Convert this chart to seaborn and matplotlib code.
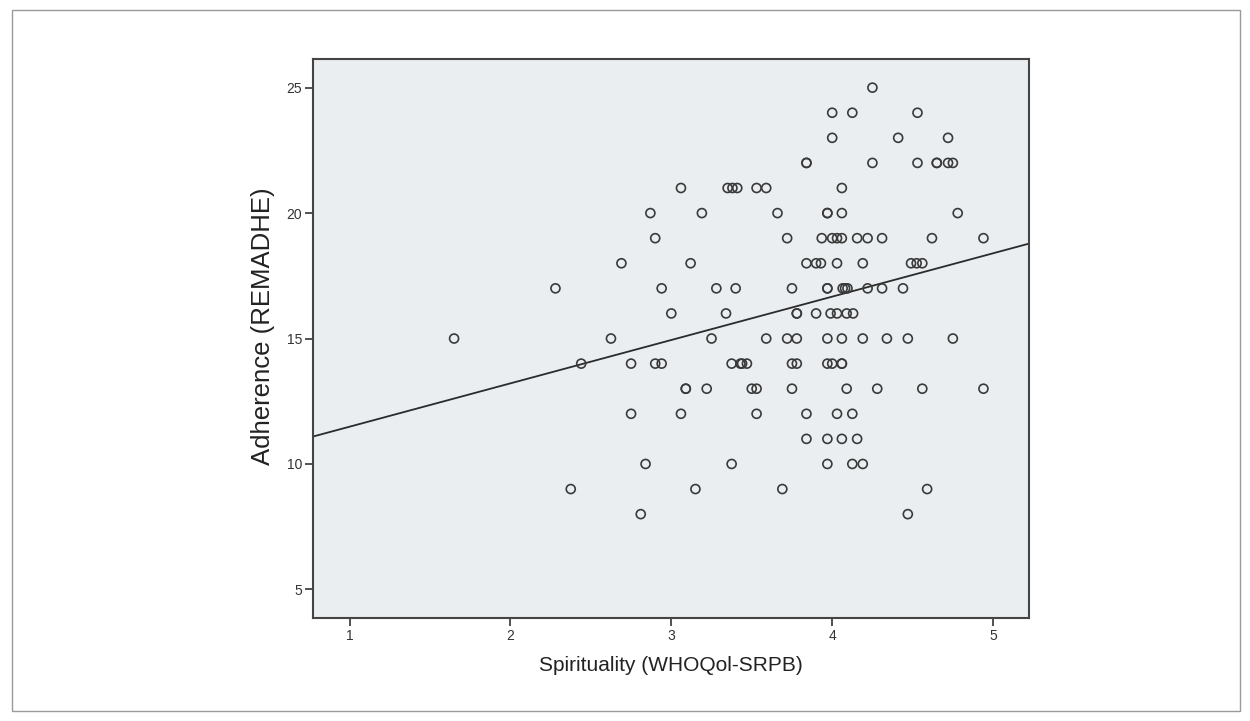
import numpy as np
import pandas as pd
import seaborn as sns
import matplotlib.pyplot as plt
from matplotlib.patches import Rectangle

# Spirituality scores (x) for each adherence level (y)
adh_25 = [4.25]
adh_24 = [4.00, 4.125, 4.53]
adh_23 = [4.00, 4.41, 4.72]
adh_22 = [3.84, 3.84, 4.25, 4.53, 4.65, 4.65, 4.72, 4.75]
adh_21 = [3.06, 3.35, 3.38, 3.41, 3.53, 3.59, 4.06]
adh_20 = [2.87, 3.19, 3.66, 3.97, 3.97, 4.06, 4.78]
adh_19 = [2.90, 3.72, 3.935, 4.00, 4.03, 4.06, 4.155, 4.22, 4.31, 4.62, 4.94]
adh_18 = [2.69, 3.12, 3.84, 3.90, 3.93, 4.03, 4.19, 4.49, 4.525, 4.56]
adh_17 = [2.28, 2.94, 3.28, 3.40, 3.75, 3.97, 3.97, 4.065, 4.08, 4.095, 4.22, 4.31, 4.44]
adh_16 = [3.00, 3.34, 3.78, 3.78, 3.90, 3.99, 4.03, 4.09, 4.13]
adh_15 = [1.65, 2.625, 3.25, 3.59, 3.72, 3.78, 3.97, 4.06, 4.19, 4.34, 4.47, 4.75]
adh_14 = [2.44, 2.75, 2.90, 2.94, 3.375, 3.43, 3.44, 3.47, 3.75, 3.78, 3.97, 4.00, 4.06, 4.06]
adh_13 = [3.09, 3.09, 3.22, 3.50, 3.53, 3.75, 4.09, 4.28, 4.56, 4.94]
adh_12 = [2.75, 3.06, 3.53, 3.84, 4.03, 4.125]
adh_11 = [3.84, 3.97, 4.06, 4.155]
adh_10 = [2.84, 3.375, 3.97, 4.125, 4.19]
adh_9 = [2.375, 3.15, 3.69, 4.59]
adh_8 = [2.81, 4.47]

levels = [25, 24, 23, 22, 21, 20, 19, 18, 17, 16, 15, 14, 13, 12, 11, 10, 9, 8]
rows = [adh_25, adh_24, adh_23, adh_22, adh_21, adh_20, adh_19, adh_18, adh_17,
        adh_16, adh_15, adh_14, adh_13, adh_12, adh_11, adh_10, adh_9, adh_8]

x_ticks = [1, 2, 3, 4, 5]
y_ticks = [5, 10, 15, 20, 25]
x_label = "Spirituality (WHOQol-SRPB)"
y_label = "Adherence (REMADHE)"

spirit = []
adher = []
for lv, r in zip(levels, rows):
    spirit.extend(r)
    adher.extend([lv] * len(r))
df = pd.DataFrame({"spirituality": spirit, "adherence": adher})

sns.set_theme(style="ticks")
plt.rcParams["font.family"] = ["Liberation Sans", "DejaVu Sans"]

fig = plt.figure(figsize=(12.5, 7.21), dpi=100)
fig.patch.set_facecolor("white")
ax = fig.add_axes([313.3 / 1250, 1 - 618 / 721, (1029.3 - 313.3) / 1250, (618 - 59.3) / 721])
ax.set_facecolor("#EAEEF1")
ax.set_xlim(0.775, 5.225)
ax.set_ylim(3.86, 26.13)

sns.regplot(data=df, x="spirituality", y="adherence", scatter=False, ci=None,
            truncate=False, ax=ax, line_kws=dict(color="#2b2b2b", lw=1.3))
sns.scatterplot(data=df, x="spirituality", y="adherence", ax=ax, marker="o",
                s=42, facecolors="none", edgecolor="#3a3a3a", linewidth=1.2, zorder=3)

ax.set_xlim(0.775, 5.225)
ax.set_ylim(3.86, 26.13)
ax.set_xticks(x_ticks)
ax.set_yticks(y_ticks)
ax.set_xticklabels([str(t) for t in x_ticks])
ax.set_yticklabels([str(t) for t in y_ticks])
ax.tick_params(direction="out", length=6, width=1.2, color="#333333",
               labelsize=10, labelcolor="#333333", pad=2)
for s in ax.spines.values():
    s.set_color("#444444")
    s.set_linewidth(1.5)
ax.set_xlabel(x_label, fontsize=15, color="#222222", labelpad=9)
ax.set_ylabel(y_label, fontsize=18.5, color="#222222")
ax.yaxis.set_label_coords(-0.053, 0.522)

fig.patches.append(Rectangle((12 / 1250, 1 - 711 / 721), (1240 - 12) / 1250, (711 - 10) / 721,
                             transform=fig.transFigure, fill=False,
                             edgecolor="#9a9a9a", lw=1.0))

fig.savefig("out.png", dpi=100)
